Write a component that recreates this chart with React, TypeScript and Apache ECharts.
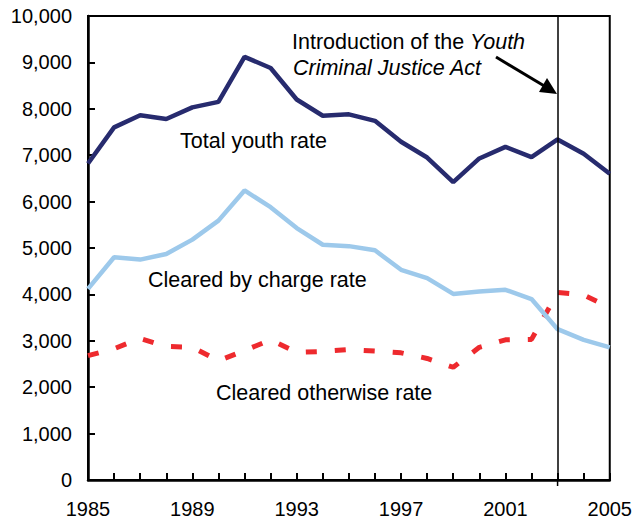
import React, { useEffect, useRef } from "react";
import * as echarts from "echarts";

const years = [1985, 1986, 1987, 1988, 1989, 1990, 1991, 1992, 1993, 1994, 1995, 1996, 1997, 1998, 1999, 2000, 2001, 2002, 2003, 2004, 2005];
const totalYouth = [6820, 7600, 7860, 7780, 8030, 8150, 9120, 8880, 8200, 7850, 7880, 7740, 7290, 6950, 6420, 6930, 7180, 6960, 7340, 7030, 6600];
const clearedByCharge = [4120, 4800, 4750, 4870, 5180, 5590, 6240, 5880, 5430, 5070, 5040, 4950, 4530, 4350, 4010, 4060, 4100, 3900, 3250, 3020, 2860];
const clearedOtherwise = [2680, 2830, 3050, 2880, 2860, 2570, 2790, 3020, 2750, 2770, 2810, 2780, 2740, 2620, 2430, 2860, 3020, 3030, 4040, 3990, 3720];
const yTicks = [0, 1000, 2000, 3000, 4000, 5000, 6000, 7000, 8000, 9000, 10000];
const xLabelYears = [1985, 1989, 1993, 1997, 2001, 2005];
const actYear = 2003;

const FONT = "'Liberation Sans', Arial, Helvetica, sans-serif";
const ANN = `21.5px ${FONT}`;

export default function App() {
  const ref = useRef<HTMLDivElement>(null);
  useEffect(() => {
    document.body.style.margin = "0";
    if (!ref.current) return;
    const chart = echarts.init(ref.current, null, { renderer: "svg" });
    const pair = (vals: number[]) => years.map((y, i) => [y, vals[i]]);
    chart.setOption({
      animation: false,
      backgroundColor: "#fff",
      grid: { left: 88, right: 22, top: 16, bottom: 42, show: true, borderColor: "#000", borderWidth: 2, backgroundColor: "transparent" },
      xAxis: {
        type: "value",
        min: years[0],
        max: years[years.length - 1],
        interval: 1,
        axisLine: { show: true, lineStyle: { color: "#000", width: 2.5 } },
        axisTick: { show: true, inside: true, length: 7, lineStyle: { color: "#000", width: 2 } },
        splitLine: { show: false },
        axisLabel: {
          color: "#000",
          fontSize: 20,
          fontFamily: FONT,
          margin: 19,
          showMinLabel: true,
          showMaxLabel: true,
          formatter: (v: number) => (xLabelYears.includes(v) ? String(v) : ""),
        },
      },
      yAxis: {
        type: "value",
        min: yTicks[0],
        max: yTicks[yTicks.length - 1],
        interval: 1000,
        axisLine: { show: true, lineStyle: { color: "#000", width: 2.5 } },
        axisTick: { show: true, inside: true, length: 7, lineStyle: { color: "#000", width: 2 } },
        splitLine: { show: false },
        axisLabel: {
          color: "#000",
          fontSize: 20,
          fontFamily: FONT,
          margin: 16,
          formatter: (v: number) => v.toLocaleString("en-US"),
        },
      },
      series: [
        {
          type: "line",
          name: "Cleared otherwise rate",
          data: pair(clearedOtherwise),
          symbol: "none",
          lineStyle: { color: "#EE2A2E", width: 5, type: [11, 18], cap: "butt" },
          z: 2,
        },
        {
          type: "line",
          name: "Cleared by charge rate",
          data: pair(clearedByCharge),
          symbol: "none",
          lineStyle: { color: "#9DC9EB", width: 4.5 },
          z: 3,
        },
        {
          type: "line",
          name: "Total youth rate",
          data: pair(totalYouth),
          symbol: "none",
          lineStyle: { color: "#272B6E", width: 4.5 },
          z: 4,
          markLine: {
            silent: true,
            symbol: "none",
            label: { show: false },
            lineStyle: { color: "#000", width: 1.5, type: "solid" },
            data: [{ xAxis: actYear }],
          },
        },
      ],
    });

    const [lx, by] = chart.convertToPixel({ gridIndex: 0 }, [actYear, 0]) as number[];
    chart.setOption({
      graphic: [
        { type: "line", shape: { x1: lx, y1: by, x2: lx, y2: by + 6 }, style: { stroke: "#000", lineWidth: 1.5 } },
        { type: "text", x: 180, y: 141, style: { text: "Total youth rate", font: ANN, fill: "#000", verticalAlign: "middle" } },
        { type: "text", x: 148, y: 280, style: { text: "Cleared by charge rate", font: ANN, fill: "#000", verticalAlign: "middle" } },
        { type: "text", x: 216, y: 393, style: { text: "Cleared otherwise rate", font: ANN, fill: "#000", verticalAlign: "middle" } },
        {
          type: "text",
          x: 292,
          y: 42,
          style: {
            text: "{n|Introduction of the }{i|Youth}",
            verticalAlign: "middle",
            rich: {
              n: { font: ANN, fill: "#000" },
              i: { font: `italic ${ANN}`, fill: "#000" },
            },
          },
        },
        { type: "text", x: 293, y: 68, style: { text: "Criminal Justice Act", font: `italic ${ANN}`, fill: "#000", verticalAlign: "middle" } },
        { type: "line", shape: { x1: 496, y1: 57, x2: 546, y2: 87 }, style: { stroke: "#000", lineWidth: 3 } },
        { type: "polygon", shape: { points: [[557, 94], [539, 92], [547, 78]] }, style: { fill: "#000" } },
      ],
    });
    return () => chart.dispose();
  }, []);
  return <div ref={ref} style={{ width: 635, height: 522 }} />;
}
